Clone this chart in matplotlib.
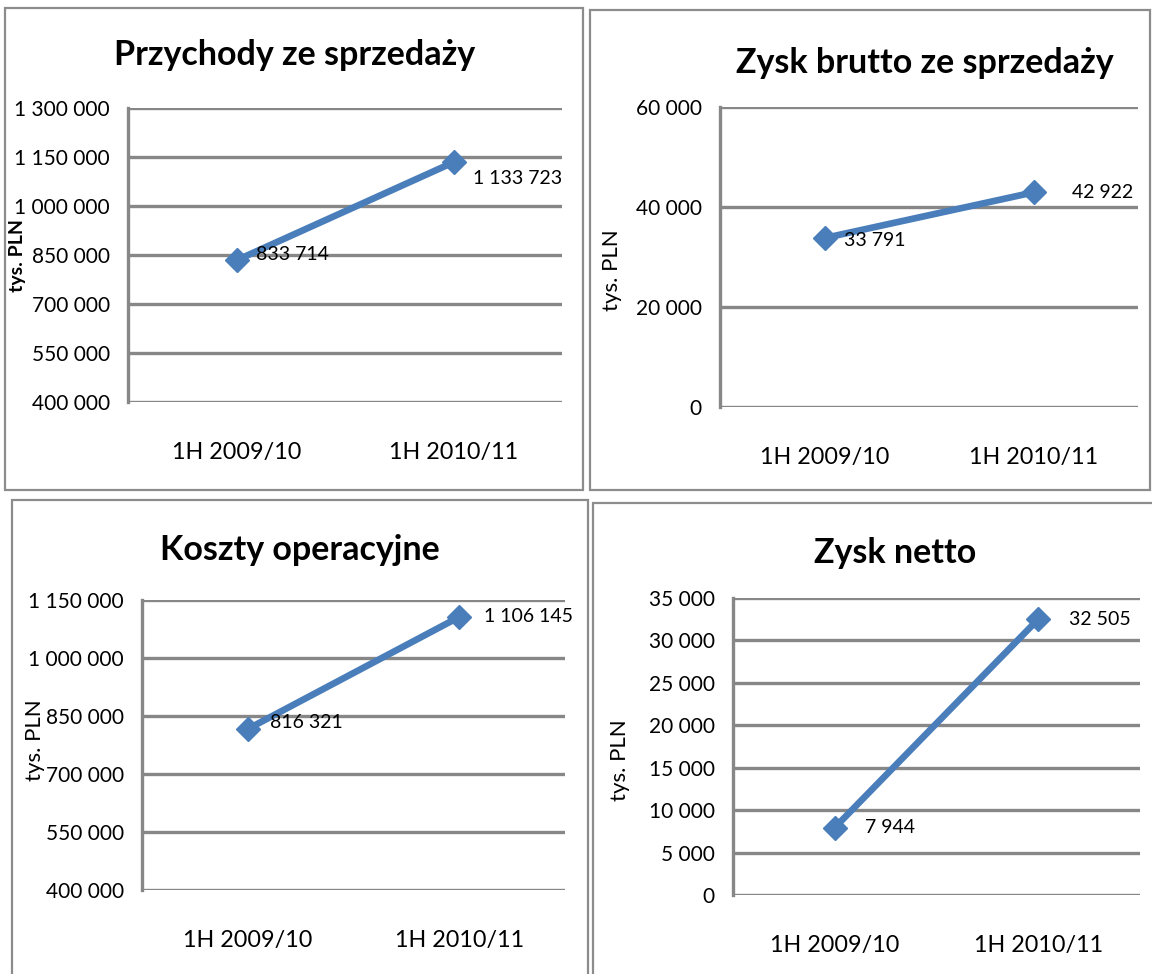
import matplotlib
matplotlib.use("Agg")
import matplotlib.pyplot as plt
from matplotlib.patches import Rectangle
import numpy as np

plt.rcParams['font.family'] = ['Lato', 'DejaVu Sans']

categories = ['1H 2009/10', '1H 2010/11']
przychody = [833714, 1133723]
zysk_brutto = [33791, 42922]
koszty = [816321, 1106145]
zysk_netto = [7944, 32505]

W, H = 1152, 974
fig = plt.figure(figsize=(W / 100, H / 100), dpi=100)

LINE = '#4A7EBB'
GRID = '#878787'


def px_axes(left, top, right, bottom):
    return fig.add_axes([left / W, 1 - bottom / H, (right - left) / W, (bottom - top) / H])


def box(left, top, right, bottom):
    fig.patches.append(Rectangle((left / W, 1 - bottom / H), (right - left) / W, (bottom - top) / H,
                                 transform=fig.transFigure, fill=False, edgecolor='#8c8c8c', lw=1.6))


def fmt(v):
    return f"{v:,}".replace(",", " ")


def panel(ax, values, title, ymin, ymax, step, title_xy, ylab_xy, ylab_bold, ylab_size, offsets):
    x = np.arange(len(categories))
    ax.plot(x, values, color=LINE, lw=4.8, marker='D', ms=12, zorder=3, clip_on=False)
    for xi, v, off in zip(x, values, offsets):
        ax.annotate(fmt(v), (xi, v), xytext=off, textcoords='offset points',
                    ha='left', va='center', fontsize=14, zorder=4)
    ax.set_xlim(-0.5, 1.5)
    ax.set_ylim(ymin, ymax)
    ticks = np.arange(ymin, ymax + 1, step)
    ax.set_yticks(ticks)
    ax.set_yticklabels([fmt(t) for t in ticks], fontsize=15)
    ax.set_xticks(x)
    ax.set_xticklabels(categories, fontsize=16.8)
    ax.tick_params(length=0)
    ax.tick_params(axis='y', pad=13)
    ax.tick_params(axis='x', pad=29)
    ax.grid(axis='y', color=GRID, lw=2.4)
    ax.set_axisbelow(True)
    for s in ['top', 'right', 'bottom']:
        ax.spines[s].set_visible(False)
    ax.spines['left'].set_color(GRID)
    ax.spines['left'].set_linewidth(2.4)
    fig.text(title_xy[0] / W, 1 - title_xy[1] / H, title, ha='center', va='center',
             fontsize=24.5, fontweight='bold')
    fig.text(ylab_xy[0] / W, 1 - ylab_xy[1] / H, 'tys. PLN', rotation=90, ha='center', va='center',
             fontsize=ylab_size, fontweight='bold' if ylab_bold else 'normal')


box(5, 8, 583, 490)
box(590, 10, 1150, 490)
box(12, 500, 588, 980)
box(593, 503, 1155, 980)

ax1 = px_axes(128, 108, 562, 402)
panel(ax1, przychody, 'Przychody ze sprzedaży', 400000, 1300000, 150000,
      (295, 55), (18, 255), True, 14, [(14, 4), (14, -12)])

ax2 = px_axes(720, 107, 1138, 407)
panel(ax2, zysk_brutto, 'Zysk brutto ze sprzedaży', 0, 60000, 20000,
      (925, 63), (612, 270), False, 16, [(14, -2), (28, 0)])

ax3 = px_axes(142, 600, 565, 890)
panel(ax3, koszty, 'Koszty operacyjne', 400000, 1150000, 150000,
      (300, 550), (35, 740), False, 16, [(16, 5), (18, 0)])

ax4 = px_axes(733, 598, 1140, 895)
panel(ax4, zysk_netto, 'Zysk netto', 0, 35000, 5000,
      (895, 553), (620, 760), False, 16, [(22, 0), (22, 0)])

fig.savefig('out.png', dpi=100)
